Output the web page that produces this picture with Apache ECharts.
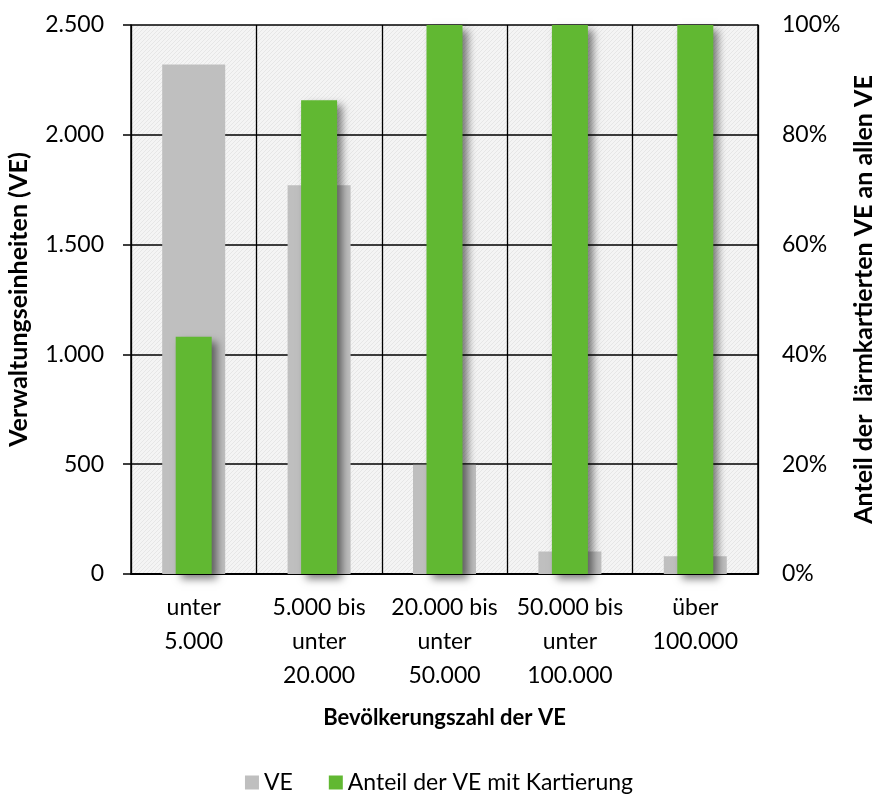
<!DOCTYPE html>
<html>
<head>
<meta charset="utf-8">
<script src="https://cdn.jsdelivr.net/npm/echarts@6/dist/echarts.min.js"></script>
<style>
html,body{margin:0;padding:0;background:#fff;}
#chart{width:878px;height:800px;}
</style>
</head>
<body>
<div id="chart"></div>
<script>
const categories = ['unter\n5.000', '5.000 bis\nunter\n20.000', '20.000 bis\nunter\n50.000', '50.000 bis\nunter\n100.000', 'über\n100.000'];
const veValues = [2320, 1770, 497, 102, 81];
const anteilValues = [43.2, 86.3, 100, 100, 100];

const FONT = 'Lato';

function makePattern() {
  const c = document.createElement('canvas');
  c.width = 4; c.height = 4;
  const ctx = c.getContext('2d');
  ctx.fillStyle = '#f4f4f4';
  ctx.fillRect(0, 0, 4, 4);
  ctx.fillStyle = '#e6e6e6';
  for (let i = 0; i < 4; i++) {
    ctx.fillRect(i, 3 - i, 1, 1);
  }
  return c;
}

const chart = echarts.init(document.getElementById('chart'));
const fmtDE = v => String(v).replace(/\B(?=(\d{3})+(?!\d))/g, '.');

chart.setOption({
  animation: false,
  textStyle: { fontFamily: FONT },
  grid: {
    left: 131, right: 120, top: 25, bottom: 226,
    outerBoundsMode: 'none',
    containLabel: false,
    show: true,
    backgroundColor: { image: makePattern(), repeat: 'repeat' },
    borderWidth: 0
  },
  legend: {
    bottom: 1,
    left: 'center',
    itemWidth: 14, itemHeight: 14,
    itemGap: 36,
    icon: 'rect',
    textStyle: { fontFamily: FONT, fontSize: 23, color: '#000' },
    data: ['VE', 'Anteil der VE mit Kartierung']
  },
  xAxis: [{
    type: 'category',
    data: categories,
    name: 'Bevölkerungszahl der VE',
    nameLocation: 'middle',
    nameGap: 133,
    nameTextStyle: { fontFamily: FONT, fontSize: 22, fontWeight: 'bold', color: '#000' },
    axisLine: { lineStyle: { color: '#000', width: 2 } },
    axisTick: { show: false },
    axisLabel: { fontSize: 23, color: '#000', margin: 17, lineHeight: 34, interval: 0 },
    splitLine: { show: true, lineStyle: { color: '#000', width: 1.3 } }
  }, {
    type: 'category',
    data: categories,
    show: false
  }],
  yAxis: [{
    type: 'value',
    min: 0, max: 2500, interval: 500,
    name: 'Verwaltungseinheiten (VE)',
    nameLocation: 'middle',
    nameGap: 100,
    nameRotate: 90,
    nameTextStyle: { fontFamily: FONT, fontSize: 25, fontWeight: 'bold', color: '#000' },
    axisLine: { show: true, lineStyle: { color: '#000', width: 1.5 } },
    axisTick: { show: true, length: 8, lineStyle: { color: '#000', width: 1.5 } },
    axisLabel: { fontSize: 23, color: '#000', margin: 27, formatter: v => fmtDE(v) },
    splitLine: { show: true, lineStyle: { color: '#000', width: 1.5 } }
  }, {
    type: 'value',
    min: 0, max: 100, interval: 20,
    position: 'right',
    name: 'Anteil der  lärmkartierten VE an allen VE',
    nameLocation: 'middle',
    nameGap: 89,
    nameRotate: 90,
    nameTextStyle: { fontFamily: FONT, fontSize: 25, fontWeight: 'bold', color: '#000' },
    axisLine: { show: true, lineStyle: { color: '#000', width: 1.5 } },
    axisTick: { show: false },
    axisLabel: { fontSize: 23, color: '#000', margin: 24, formatter: v => v + '%' },
    splitLine: { show: false }
  }],
  series: [{
    name: 'VE',
    type: 'bar',
    xAxisIndex: 0, yAxisIndex: 0,
    barWidth: 63,
    data: veValues,
    itemStyle: { color: '#bfbfbf' }
  }, {
    name: 'Anteil der VE mit Kartierung',
    type: 'bar',
    xAxisIndex: 1, yAxisIndex: 1,
    barWidth: 36,
    data: anteilValues,
    itemStyle: {
      color: '#61b832',
      shadowColor: 'rgba(0,0,0,0.5)',
      shadowBlur: 8,
      shadowOffsetX: 5,
      shadowOffsetY: 5
    }
  }]
});
</script>
</body>
</html>
